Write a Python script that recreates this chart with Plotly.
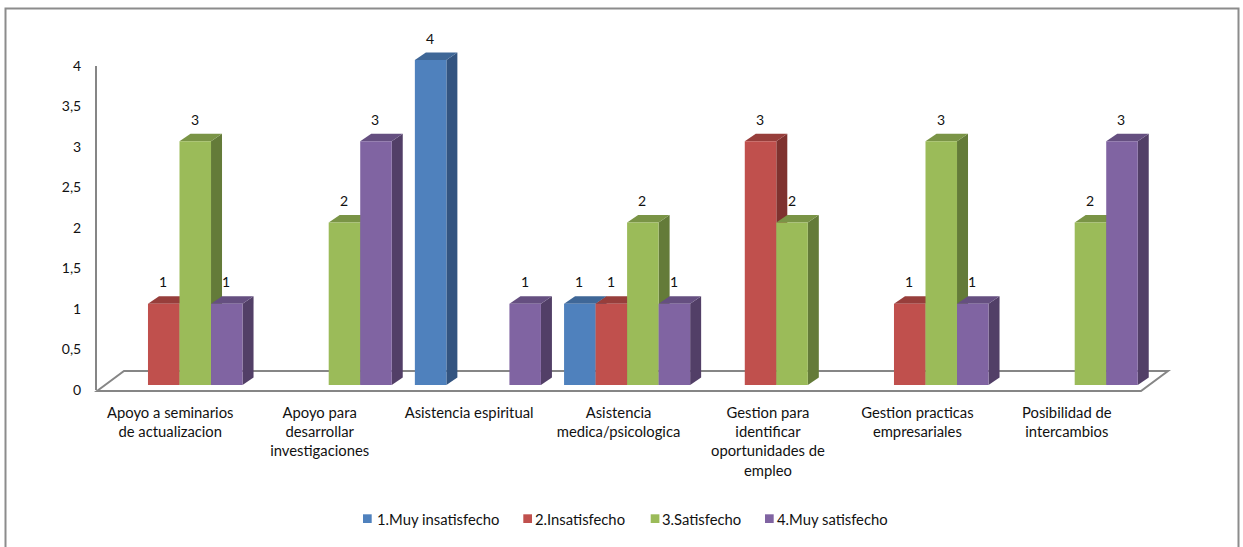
import plotly.graph_objects as go

categories = ["Apoyo a seminarios<br>de actualizacion", "Apoyo para<br>desarrollar<br>investigaciones",
              "Asistencia espiritual", "Asistencia<br>medica/psicologica",
              "Gestion para<br>identificar<br>oportunidades de<br>empleo", "Gestion practicas<br>empresariales",
              "Posibilidad de<br>intercambios"]
series_names = ["1.Muy insatisfecho", "2.Insatisfecho", "3.Satisfecho", "4.Muy satisfecho"]
muy_insatisfecho = [0, 0, 4, 1, 0, 0, 0]
insatisfecho = [1, 0, 0, 1, 3, 1, 0]
satisfecho = [3, 2, 0, 2, 2, 3, 2]
muy_satisfecho = [1, 3, 1, 1, 0, 1, 3]
series_values = [muy_insatisfecho, insatisfecho, satisfecho, muy_satisfecho]
front_colors = ["#4F81BD", "#C0504D", "#9BBB59", "#8064A2"]
top_colors = ["#3F6797", "#973E3B", "#7A9446", "#654F80"]
side_colors = ["#335480", "#7F322F", "#647B39", "#523F67"]

W, H = 1243, 547
FONT = "Lato"
TXT = "#111111"
GRAY = "#868686"
px = lambda x: x / W
py = lambda y: 1 - y / H

# Front plane of the bars: data -> pixel scale
UNIT_X, UNIT_Y = 149.2, 81.25
X0_PX, Y0_PX = 179.5, 385
x2_range = [-0.6, 6.9]
y2_range = [-0.2, 4.5]
BARGAP = 0.155
bar_w = (1 - BARGAP) / 4
dx = 11 / UNIT_X
dy = 7.5 / UNIT_Y

fig = go.Figure()
fig.add_trace(go.Scatter(x=list(range(7)), y=[None] * 7, xaxis="x", yaxis="y", showlegend=False, hoverinfo="skip"))

shapes = []
# chart frame
shapes.append(dict(type="path", xref="paper", yref="paper", layer="below",
                   path=f"M {px(5.5)} {py(560)} L {px(5.5)} {py(8.5)} L {px(1238.5)} {py(8.5)} L {px(1238.5)} {py(560)}",
                   line=dict(color="#8C8C8C", width=2)))
# floor
shapes.append(dict(type="path", xref="paper", yref="paper", layer="below",
                   path=f"M {px(97)} {py(391)} L {px(124)} {py(371)} L {px(1168)} {py(371)} L {px(1141)} {py(391)} Z",
                   line=dict(color=GRAY, width=2), fillcolor="white"))

annotations = []
for s, values in enumerate(series_values):
    fig.add_trace(go.Bar(x=list(range(7)), y=values, name=series_names[s], xaxis="x2", yaxis="y2",
                         marker=dict(color=front_colors[s], line=dict(width=0)), showlegend=False))
    for i, v in enumerate(values):
        if v <= 0:
            continue
        x0 = i - 2 * bar_w + s * bar_w
        x1 = x0 + bar_w
        shapes.append(dict(type="path", xref="x2", yref="y2", layer="below",
                           path=f"M {x1} 0 L {x1+dx} {dy} L {x1+dx} {v+dy} L {x1} {v} Z",
                           fillcolor=side_colors[s], line=dict(width=0)))
        shapes.append(dict(type="path", xref="x2", yref="y2", layer="below",
                           path=f"M {x0} {v} L {x0+dx} {v+dy} L {x1+dx} {v+dy} L {x1} {v} Z",
                           fillcolor=top_colors[s], line=dict(width=0)))
        annotations.append(dict(x=(x0 + x1) / 2, y=v, xref="x2", yref="y2", text=str(v), showarrow=False,
                                yshift=22, xshift=-0.5, font=dict(family=FONT, size=14, color=TXT)))

# legend
legend_sw = [363, 523.3, 650.7, 765]
legend_txt = [376.7, 535, 662, 777]
for s, name in enumerate(series_names):
    shapes.append(dict(type="rect", xref="paper", yref="paper", layer="below",
                       x0=px(legend_sw[s]), x1=px(legend_sw[s] + 8.7), y0=py(523), y1=py(514.3),
                       fillcolor=front_colors[s], line=dict(width=0)))
    annotations.append(dict(x=px(legend_txt[s] - 2), y=py(519), xref="paper", yref="paper", text=name,
                            showarrow=False, xanchor="left", yanchor="middle",
                            font=dict(family=FONT, size=14.8, color=TXT)))

fig.update_layout(
    width=W, height=H, autosize=False, margin=dict(l=0, r=0, t=0, b=0),
    paper_bgcolor="white", plot_bgcolor="rgba(0,0,0,0)", showlegend=False,
    separators=", ", barmode="group", bargap=BARGAP, bargroupgap=0,
    shapes=shapes, annotations=annotations, hovermode=False,
    xaxis=dict(domain=[px(97), px(1143)], range=[-0.49, 6.51], anchor="y", tickmode="array", automargin=False,
               tickvals=list(range(7)), ticktext=categories, showgrid=False, zeroline=False, showline=False,
               ticks="", ticklabelstandoff=12, tickangle=0, tickfont=dict(family=FONT, size=14.8, color=TXT)),
    yaxis=dict(domain=[py(390), py(66)], range=[0, 4], anchor="x", dtick=0.5, showgrid=False, zeroline=False,
               automargin=False, showline=True, linecolor=GRAY, linewidth=2, ticks="", ticklabelstandoff=11,
               tickfont=dict(family=FONT, size=14, color=TXT)),
    xaxis2=dict(domain=[px(X0_PX + x2_range[0] * UNIT_X), px(X0_PX + x2_range[1] * UNIT_X)], range=x2_range,
                anchor="y2", visible=False, automargin=False),
    yaxis2=dict(domain=[py(Y0_PX - y2_range[0] * UNIT_Y), py(Y0_PX - y2_range[1] * UNIT_Y)], range=y2_range,
                anchor="x2", visible=False, automargin=False),
)
fig.write_html("out.html", config={"displayModeBar": False}, post_script="document.body.style.margin='0';")
